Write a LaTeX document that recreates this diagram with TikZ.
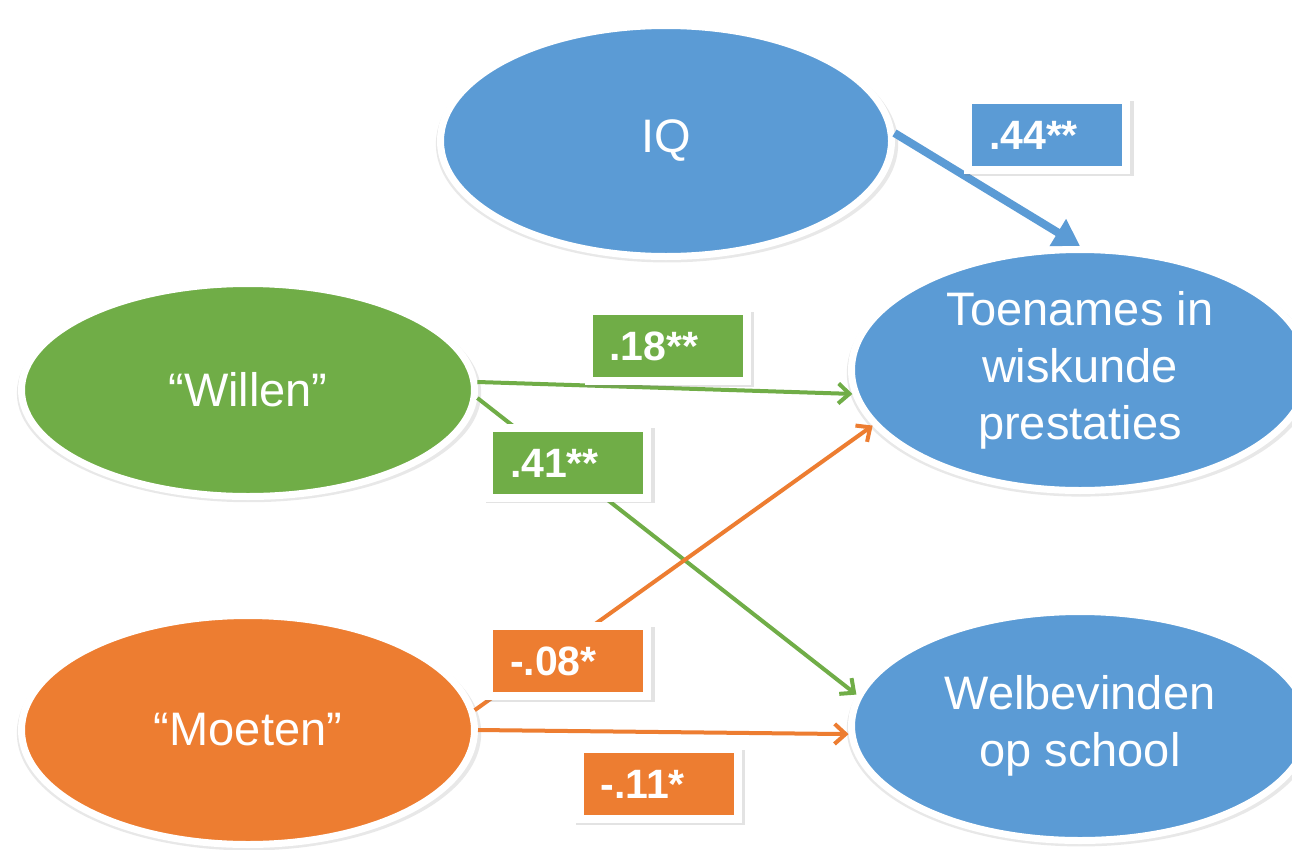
\documentclass[tikz,border=0pt]{standalone}
\usepackage{fontspec}
\setmainfont{Liberation Sans}
\usetikzlibrary{shapes.geometric,arrows.meta,shadows}
\definecolor{cblue}{HTML}{5B9BD5}
\definecolor{cgreen}{HTML}{70AD47}
\definecolor{corange}{HTML}{ED7D31}
\begin{document}
\begin{tikzpicture}[x=1pt,y=-1pt,
  oval/.style={ellipse, fill=#1, draw=white, line width=7pt, inner sep=0pt,
    text=white, font=\fontsize{47}{57}\selectfont, align=center,
    drop shadow={opacity=0.18, shadow xshift=1pt, shadow yshift=-3pt, shadow scale=1.025}},
  lab/.style={fill=#1, draw=white, line width=8pt, minimum width=158pt,
    minimum height=70pt, text width=116pt, inner xsep=21pt, inner ysep=0pt,
    align=left, text=white, font=\fontsize{41}{41}\selectfont\bfseries,
    text height=29pt, text depth=0pt,
    drop shadow={opacity=0.22, shadow xshift=2pt, shadow yshift=-3pt, shadow scale=1.07}},
  thin/.style={draw=#1, line width=4pt, -{Straight Barb[length=11pt,width=20pt,line width=4pt]}},
  thick/.style={draw=#1, line width=8pt, -{Triangle[length=26pt,width=30pt]}}
]
\useasboundingbox (0,0) rectangle (1292,849);
\fill[white] (0,0) rectangle (1292,849);

\node[oval=cblue, minimum width=451pt, minimum height=231pt] (iq) at (666,141) {IQ};
\node[oval=cblue, minimum width=457pt, minimum height=241pt] (toe) at (1080,370) {Toenames in\\wiskunde\\prestaties};
\node[oval=cgreen, minimum width=453pt, minimum height=213pt] (will) at (248,390) {“Willen”};
\node[oval=corange, minimum width=453pt, minimum height=229pt] (moe) at (248,730) {“Moeten”};
\node[oval=cblue, minimum width=457pt, minimum height=229pt] (welb) at (1080,726) {Welbevinden\\op school};

\draw[thick=cblue] (iq.2) -- (toe.north);
\draw[thin=cgreen] (will.2) -- (toe.186);
\draw[thin=cgreen] (will.-2) -- (welb.172);
\draw[thin=corange] (moe.5) -- (toe.195);
\draw[thin=corange] (moe.0) -- (welb.182);

\node[lab=cblue] (l44) at (1047,135) {.44**};
\node[lab=cgreen] (l18) at (667.5,346) {.18**};
\node[lab=cgreen] (l41) at (568,462.5) {.41**};
\node[lab=corange] (l08) at (568,661) {-.08*};
\node[lab=corange] (l11) at (658.5,784) {-.11*};
\end{tikzpicture}
\end{document}
